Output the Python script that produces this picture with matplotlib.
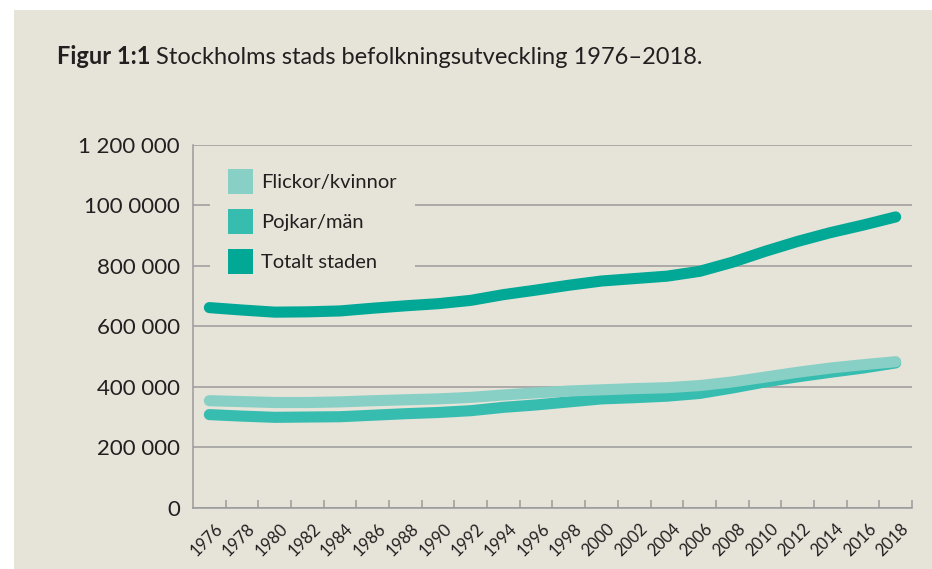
import numpy as np
import matplotlib
matplotlib.use('Agg')
import matplotlib.pyplot as plt
from matplotlib.patches import Patch, Rectangle

plt.rcParams['font.family'] = ['Lato', 'DejaVu Sans']

# Data (every second year)
years = [1976, 1978, 1980, 1982, 1984, 1986, 1988, 1990, 1992, 1994, 1996,
         1998, 2000, 2002, 2004, 2006, 2008, 2010, 2012, 2014, 2016, 2018]
total = [662000, 654000, 647000, 648000, 651000, 660000, 668000, 675000,
         686000, 705000, 720000, 736000, 750000, 758000, 766000, 782000,
         812000, 848000, 881000, 910000, 935000, 962000]
women = [354000, 351000, 348000, 348000, 350000, 354000, 357000, 360000,
         365000, 373000, 380000, 386000, 390000, 394000, 397000, 404000,
         416000, 432000, 448000, 462000, 473000, 483000]
men = [308000, 303000, 299000, 300000, 301000, 306000, 311000, 315000,
       321000, 332000, 340000, 350000, 360000, 364000, 369000, 378000,
       396000, 416000, 433000, 448000, 462000, 479000]

y_ticks = [0, 200000, 400000, 600000, 800000, 1000000, 1200000]
y_labels = ['0', '200 000', '400 000', '600 000', '800 000', '100 0000', '1 200 000']
series_names = ['Flickor/kvinnor', 'Pojkar/män', 'Totalt staden']

bg = '#e6e3d9'
grid_col = '#9b9b9b'
text_col = '#231f20'
c_women = '#88d0c5'
c_men = '#36bdb0'
c_total = '#00a895'

fig = plt.figure(figsize=(9.32, 5.69), dpi=100, facecolor='white')
fig.patches.append(Rectangle((14 / 932, 0), 1, (569 - 10) / 569,
                             transform=fig.transFigure, facecolor=bg,
                             edgecolor='none', zorder=-10))

ax = fig.add_axes([193 / 932, 1 - 507.7 / 569, (912 - 193) / 932, (507.7 - 145) / 569])
ax.set_facecolor('none')

# lines
lw = 8
ax.plot(years, men, color=c_men, lw=lw, solid_capstyle='round', solid_joinstyle='round', zorder=3)
ax.plot(years, women, color=c_women, lw=lw, solid_capstyle='round', solid_joinstyle='round', zorder=4)
ax.plot(years, total, color=c_total, lw=lw, solid_capstyle='round', solid_joinstyle='round', zorder=5)

ax.set_xlim(1975, 2019)
ax.set_ylim(0, 1200000)

ax.set_yticks(y_ticks)
ax.set_yticklabels(y_labels)
ax.tick_params(axis='y', length=0, pad=9.5, labelsize=16, labelcolor=text_col)
ax.yaxis.grid(True, color=grid_col, lw=1.1)
ax.set_axisbelow(True)

ax.set_xticks([y + 1 for y in years])
ax.set_xticklabels([str(y) for y in years], rotation=45, ha='right')
ax.tick_params(axis='x', direction='in', length=5.5, width=1.1, color=grid_col,
               pad=9, labelsize=12, labelcolor=text_col)

for s in ['top', 'right']:
    ax.spines[s].set_visible(False)
for s in ['left', 'bottom']:
    ax.spines[s].set_color(grid_col)
    ax.spines[s].set_linewidth(1.1)

handles = [Patch(facecolor=c, edgecolor='none') for c in [c_women, c_men, c_total]]
leg = ax.legend(handles, series_names, loc='upper left',
                bbox_to_anchor=(0.0236, 0.985), borderaxespad=0, borderpad=0.9,
                fontsize=14.5, handlelength=1.24, handleheight=1.53,
                handletextpad=0.4, labelspacing=0.75,
                frameon=True, facecolor=bg, edgecolor='none', framealpha=1,
                fancybox=False)
for t in leg.get_texts():
    t.set_color(text_col)
leg.set_zorder(6)

# title
t1 = fig.text(57 / 932, 1 - 64 / 569, 'Figur 1:1', fontsize=17, fontweight='bold',
              color=text_col, va='baseline')
ax.annotate(' Stockholms stads befolkningsutveckling 1976–2018.', xy=(1, 0),
            xycoords=t1, va='bottom', ha='left', fontsize=17, color=text_col,
            annotation_clip=False)

fig.savefig('out.png', dpi=100, facecolor=fig.get_facecolor())
